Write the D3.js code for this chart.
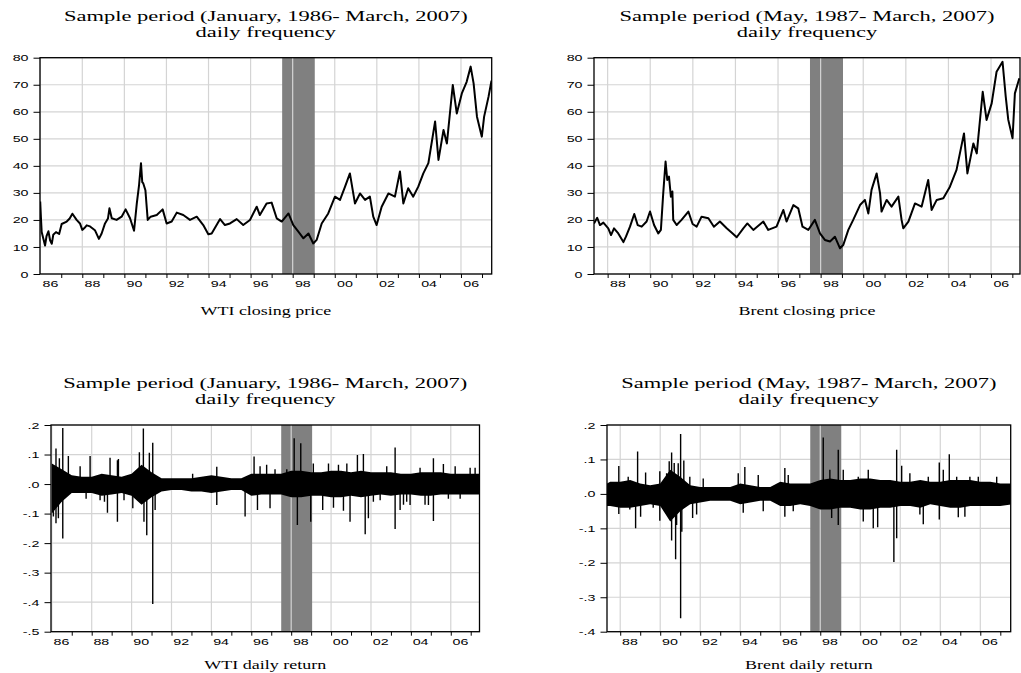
<!DOCTYPE html>
<html>
<head>
<meta charset="utf-8">
<script src="https://cdn.jsdelivr.net/npm/d3@7/dist/d3.min.js"></script>
<style>
body { margin: 0; background: #fff; }
#vis { width: 1021px; height: 673px; }
</style>
</head>
<body>
<div id="vis"></div>
<script>
// ---- data ----

// WTI closing price (decimal year, USD)
var wtiYears = [1986.0, 1986.04, 1986.07, 1986.15, 1986.23, 1986.3, 1986.39, 1986.47, 1986.55, 1986.62, 1986.75, 1986.9,
    1987.02, 1987.26, 1987.4, 1987.53, 1987.73, 1987.89, 1988.0, 1988.1, 1988.21, 1988.37, 1988.6, 1988.79, 1988.92,
    1989.08, 1989.22, 1989.29, 1989.4, 1989.63, 1989.87, 1990.06, 1990.27, 1990.46, 1990.59, 1990.7, 1990.79, 1990.85,
    1990.9, 1991.0, 1991.05, 1991.11, 1991.25, 1991.54, 1991.82, 1992.01, 1992.25, 1992.49, 1992.8, 1993.12, 1993.44,
    1993.75, 1993.99, 1994.15, 1994.55, 1994.78, 1995.02, 1995.34, 1995.65, 1995.97, 1996.29, 1996.44, 1996.76, 1997.0,
    1997.24, 1997.48, 1997.8, 1998.03, 1998.27, 1998.51, 1998.75, 1998.98, 1999.14, 1999.38, 1999.69, 2000.01, 2000.25,
    2000.49, 2000.72, 2000.96, 2001.2, 2001.44, 2001.67, 2001.83, 2001.99, 2002.23, 2002.55, 2002.86, 2003.1, 2003.26,
    2003.49, 2003.73, 2003.97, 2004.21, 2004.45, 2004.77, 2004.93, 2005.17, 2005.33, 2005.61, 2005.8, 2006.04, 2006.27,
    2006.46, 2006.6, 2006.76, 2006.99, 2007.1, 2007.31, 2007.45];
var wtiPrice = [26.8, 20, 15.5, 13, 10.5, 14, 15.8, 12.5, 11.2, 14.5, 15.5, 14.8,
    18.5, 19.4, 20.5, 22.3, 20, 18.7, 16.3, 17, 18, 17.6, 16.2, 13, 15,
    18.7, 20.5, 24.3, 20.6, 20, 21.2, 23.9, 20.6, 16, 26, 33, 41, 34,
    33.5, 31, 26, 20, 21.2, 21.8, 23.9, 18.7, 19.4, 22.7, 21.8, 20, 21.2,
    18.1, 14.7, 15, 20.3, 18.1, 18.7, 20.3, 18.1, 20, 24.9, 21.8, 26.1, 26.4,
    20.6, 19.4, 22.4, 18.1, 15.7, 13.2, 15, 11.3, 12.6, 18.7, 22.4, 28.6, 27.4,
    32.3, 37.2, 26.1, 29.8, 27.4, 28.6, 21.2, 18.1, 24.9, 29.8, 28.6, 37.9, 26.1,
    31.7, 28.6, 32.3, 37.2, 41, 56.4, 42.2, 53.3, 48.3, 69.9, 59.4, 66.8, 71.1,
    76.7, 70.5, 58.2, 50.8, 58.2, 65.6, 71.5];

// Brent closing price
var brentYears = [1987.36, 1987.51, 1987.64, 1987.8, 1988.03, 1988.16, 1988.3, 1988.5, 1988.74, 1988.86, 1989.05,
    1989.25, 1989.41, 1989.6, 1989.83, 1989.99, 1990.18, 1990.38, 1990.5, 1990.61, 1990.72, 1990.8, 1990.88, 1990.97,
    1991.04, 1991.08, 1991.24, 1991.47, 1991.79, 1991.99, 1992.18, 1992.41, 1992.73, 1992.99, 1993.27, 1993.59, 1993.87,
    1994.06, 1994.37, 1994.56, 1994.84, 1995.31, 1995.54, 1995.93, 1996.25, 1996.4, 1996.72, 1996.95, 1997.15, 1997.42,
    1997.73, 1997.97, 1998.2, 1998.44, 1998.67, 1998.91, 1999.06, 1999.3, 1999.53, 1999.85, 2000.08, 2000.24, 2000.39,
    2000.63, 2000.79, 2000.86, 2001.1, 2001.33, 2001.65, 2001.8, 2001.88, 2002.12, 2002.43, 2002.74, 2003.05, 2003.21,
    2003.45, 2003.76, 2004.07, 2004.38, 2004.73, 2004.89, 2005.17, 2005.33, 2005.61, 2005.79, 2006.03, 2006.26, 2006.54,
    2006.69, 2006.81, 2007.01, 2007.12, 2007.33];
var brentPrice = [18.7, 20.8, 18.1, 19, 16.9, 14.4, 16.9, 15, 11.8, 13.8, 17.5,
    22.2, 18.1, 17.5, 19.4, 23.1, 18.1, 15, 16.3, 29.8, 41.6, 34.8, 36, 28.6,
    30.5, 20, 18.1, 20, 23.1, 18.5, 17.5, 21.2, 20.6, 17.5, 19.4, 16.9, 15,
    13.6, 16.9, 18.7, 16.3, 19.4, 16.3, 17.5, 23.7, 19.4, 25.5, 24.3, 17.5, 16.3,
    20, 15, 12.6, 12, 13.8, 9.5, 10.7, 16.3, 20, 25.5, 27.4, 22.4, 31.1,
    37.2, 29.8, 23.1, 27.4, 24.9, 28.6, 20, 16.9, 19.4, 26.1, 24.9, 34.8, 23.7,
    27.4, 28, 32.3, 38.5, 52, 37.2, 48.3, 44.6, 67.4, 57, 63.1, 74.8, 78.5,
    65.6, 57, 50.2, 66.8, 72.4];

// daily return: dense band (upper / lower edge) every half year
var wtiBandYears = [1986.0, 1986.5, 1987.0, 1987.5, 1988.0, 1988.5, 1989.0, 1989.5, 1990.0, 1990.5, 1991.0, 1991.5,
    1992.0, 1992.5, 1993.0, 1993.5, 1994.0, 1994.5, 1995.0, 1995.5, 1996.0, 1996.5, 1997.0, 1997.5, 1998.0, 1998.5,
    1999.0, 1999.5, 2000.0, 2000.5, 2001.0, 2001.5, 2002.0, 2002.5, 2003.0, 2003.5, 2004.0, 2004.5, 2005.0, 2005.5,
    2006.0, 2006.5, 2007.0, 2007.5];
var wtiBandHi = [.07, .05, .03, .025, .025, .035, .03, .025, .035, .065, .04, .02,
    .02, .02, .02, .025, .03, .025, .02, .02, .035, .035, .035, .035, .045, .045,
    .04, .04, .045, .045, .04, .045, .04, .04, .04, .035, .035, .04, .04, .04,
    .035, .035, .035, .035];
var wtiBandLo = [-.1, -.06, -.03, -.03, -.03, -.04, -.035, -.03, -.04, -.07, -.045, -.025,
    -.02, -.02, -.025, -.025, -.03, -.025, -.02, -.02, -.04, -.035, -.035, -.035, -.045, -.045,
    -.04, -.04, -.045, -.045, -.04, -.045, -.04, -.035, -.04, -.035, -.035, -.04, -.04, -.035,
    -.035, -.035, -.035, -.035];

// daily return: single large moves
var wtiSpikeYears = [1986.08, 1986.08, 1986.21, 1986.21, 1986.33, 1986.38, 1986.55, 1986.55, 1986.83, 1987.42, 1987.72,
    1987.92, 1988.42, 1988.64, 1988.79, 1988.92, 1989.29, 1989.29, 1989.34, 1989.62, 1990.06, 1990.39, 1990.59, 1990.62,
    1990.76, 1990.89, 1991.06, 1991.06, 1991.18, 1993.06, 1994.27, 1994.27, 1995.69, 1996.14, 1996.31, 1996.44, 1996.77,
    1996.94, 1997.19, 1997.78, 1998.15, 1998.31, 1998.48, 1998.98, 1999.11, 1999.58, 1999.87, 2000.12, 2000.37, 2000.62,
    2000.79, 2000.95, 2001.32, 2001.62, 2001.71, 2001.87, 2002.12, 2002.46, 2002.79, 2003.21, 2003.21, 2003.46, 2003.63,
    2003.79, 2003.96, 2004.46, 2004.71, 2004.88, 2005.13, 2005.13, 2005.63, 2005.88, 2006.22, 2006.47, 2006.97, 2007.22];
var wtiSpikeValues = [.064, -.11, .12, -.133, -.116, .087, .19, -.184, .095, .06, -.05,
    .095, -.055, -.06, -.097, .089, .081, -.128, .085, -.055, -.082, .108, .188, -.128,
    -.173, .106, .14, -.406, -.088, .035, .059, -.071, -.11, .093, -.088, .06, .065,
    -.082, .05, .05, .155, -.139, .138, -.128, .07, -.088, .07, -.08, .065, -.09,
    .07, -.128, .098, .102, -.17, -.116, -.06, -.055, .06, .124, -.152, -.088, -.07,
    -.06, -.071, .055, -.07, -.071, .087, -.125, .068, -.05, .06, -.05, .055, .055];

var brentBandYears = [1987.34, 1987.5, 1988.0, 1988.5, 1989.0, 1989.5, 1990.0, 1990.5, 1991.0, 1991.5, 1992.0, 1992.5,
    1993.0, 1993.5, 1994.0, 1994.5, 1995.0, 1995.5, 1996.0, 1996.5, 1997.0, 1997.5, 1998.0, 1998.5, 1999.0, 1999.5,
    2000.0, 2000.5, 2001.0, 2001.5, 2002.0, 2002.5, 2003.0, 2003.5, 2004.0, 2004.5, 2005.0, 2005.5, 2006.0, 2006.5,
    2007.0, 2007.6];
var brentBandHi = [.03, .035, .035, .04, .03, .025, .03, .07, .05, .025, .02, .02,
    .02, .02, .03, .025, .02, .02, .035, .03, .03, .03, .04, .045, .04, .04,
    .045, .045, .04, .04, .035, .035, .04, .035, .035, .04, .04, .04, .035, .035,
    .03, .03];
var brentBandLo = [-.035, -.035, -.04, -.04, -.035, -.03, -.035, -.08, -.05, -.03, -.025, -.02,
    -.02, -.02, -.03, -.025, -.02, -.02, -.035, -.035, -.03, -.035, -.045, -.045, -.04, -.04,
    -.045, -.045, -.04, -.04, -.035, -.035, -.04, -.03, -.035, -.04, -.04, -.035, -.035, -.035,
    -.035, -.03];

var brentSpikeYears = [1987.93, 1987.93, 1988.4, 1988.48, 1988.77, 1988.87, 1989.02, 1989.27, 1989.65, 1989.98, 1989.98,
    1990.32, 1990.45, 1990.57, 1990.57, 1990.7, 1990.77, 1990.82, 1990.9, 1991.02, 1991.02, 1991.08, 1991.18, 1991.48,
    1991.62, 1991.82, 1992.15, 1993.9, 1994.15, 1994.23, 1994.9, 1995.15, 1996.23, 1996.23, 1996.4, 1996.65, 1998.15,
    1998.48, 1998.57, 1998.9, 1998.9, 1999.15, 1999.9, 2000.15, 2000.4, 2000.65, 2000.87, 2001.68, 2001.82, 2001.82,
    2002.07, 2002.48, 2002.98, 2003.15, 2003.4, 2003.95, 2003.95, 2004.15, 2004.45, 2004.82, 2004.9, 2005.23, 2005.48,
    2005.9, 2006.82];
var brentSpikeValues = [.081, -.058, .05, -.045, -.1, .123, -.066, .062, -.04, .066, -.078,
    .06, .095, .12, -.135, .09, -.19, -.09, .089, .174, -.361, -.11, .097, .05,
    -.07, -.06, .045, .06, -.055, .078, .055, -.05, .075, -.066, .055, -.05, .164,
    .07, -.07, .128, -.09, .07, .05, -.08, .07, -.1, -.097, -.198, .128, -.129,
    .082, .06, -.06, -.088, .05, .091, -.074, .07, .115, .05, -.068, -.066, .05,
    .05, .05];

// shaded period (Asian crisis)
var shadeYears = [1997.5, 1999.05];

// tick values
var priceTicks = [0, 10, 20, 30, 40, 50, 60, 70, 80];
var wtiReturnTicks = [-.5, -.4, -.3, -.2, -.1, 0, .1, .2];
var brentReturnTicks = [-.4, -.3, -.2, -.1, 0, .1, .2];
var wtiYearTicks = d3.range(1986, 2008);
var brentYearTicks = d3.range(1988, 2008);

// text
var wtiTitle = ['Sample period (January, 1986- March, 2007)', 'daily frequency'];
var brentTitle = ['Sample period (May, 1987- March, 2007)', 'daily frequency'];
var labels = ['WTI closing price', 'Brent closing price', 'WTI daily return', 'Brent daily return'];

// ---- drawing ----
var width = 1021, height = 673;
var stretch = 1.5; // the original picture is widened
var serif = '"Liberation Serif", "Times New Roman", serif';
var sans = '"Liberation Sans", Arial, sans-serif';

var svg = d3.select('#vis')
    .append('svg')
    .attr('width', width)
    .attr('height', height);

var panels = [
    { id: 'p1', left: 40, right: 491.7, top: 57.7, bottom: 274, xDomain: [1985.99, 2007.46], yDomain: [0, 80],
      yTicks: priceTicks, yearTicks: wtiYearTicks, title: wtiTitle, label: labels[0], labelGap: 40.5,
      kind: 'price', years: wtiYears, values: wtiPrice },
    { id: 'p2', left: 594, right: 1020, top: 57.7, bottom: 274, xDomain: [1987.36, 2007.36], yDomain: [0, 80],
      yTicks: priceTicks, yearTicks: brentYearTicks, title: brentTitle, label: labels[1], labelGap: 40.5,
      kind: 'price', years: brentYears, values: brentPrice },
    { id: 'p3', left: 51, right: 479.5, top: 425, bottom: 631.7, xDomain: [1985.96, 2007.44], yDomain: [-.5, .2],
      yTicks: wtiReturnTicks, yearTicks: wtiYearTicks, title: wtiTitle, label: labels[2], labelGap: 37,
      kind: 'return', bandYears: wtiBandYears, hi: wtiBandHi, lo: wtiBandLo,
      spikeYears: wtiSpikeYears, spikes: wtiSpikeValues },
    { id: 'p4', left: 607, right: 1010.7, top: 425, bottom: 631.7, xDomain: [1987.34, 2007.52], yDomain: [-.4, .2],
      yTicks: brentReturnTicks, yearTicks: brentYearTicks, title: brentTitle, label: labels[3], labelGap: 37,
      kind: 'return', bandYears: brentBandYears, hi: brentBandHi, lo: brentBandLo,
      spikeYears: brentSpikeYears, spikes: brentSpikeValues }
];

// move the x of a text into a transform so it can be widened
function widen(sel) {
    sel.each(function() {
        var t = d3.select(this);
        var tx = +t.attr('x') || 0;
        t.attr('x', 0)
            .attr('transform', 'translate(' + tx + ',0) scale(' + stretch + ',1)');
    });
}

function returnFormat(d) {
    var r = Math.round(Math.abs(d) * 10);
    return (d < 0 ? '-' : '') + '.' + r;
}

function drawPanel(p) {
    var g = svg.append('g').attr('class', 'panel');

    var x = d3.scaleLinear().domain(p.xDomain).range([p.left, p.right]);
    var y = d3.scaleLinear().domain(p.yDomain).range([p.bottom, p.top]);

    g.append('clipPath')
        .attr('id', 'clip-' + p.id)
        .append('rect')
        .attr('x', p.left)
        .attr('y', p.top)
        .attr('width', p.right - p.left)
        .attr('height', p.bottom - p.top);

    // horizontal grid
    g.selectAll('.hgrid')
        .data(p.yTicks)
        .enter()
        .append('line')
        .attr('x1', p.left)
        .attr('x2', p.right)
        .attr('y1', function(d) { return y(d); })
        .attr('y2', function(d) { return y(d); })
        .attr('stroke', '#d4d4d4')
        .attr('stroke-width', 1.2);

    // shaded period
    g.append('rect')
        .attr('x', x(shadeYears[0]))
        .attr('y', p.top)
        .attr('width', x(shadeYears[1]) - x(shadeYears[0]))
        .attr('height', p.bottom - p.top)
        .attr('fill', '#808080');

    // vertical grid on even years
    var evenYears = p.yearTicks.filter(function(d) { return d % 2 === 0; });
    g.selectAll('.vgrid')
        .data(evenYears)
        .enter()
        .append('line')
        .attr('x1', function(d) { return x(d); })
        .attr('x2', function(d) { return x(d); })
        .attr('y1', p.top)
        .attr('y2', p.bottom)
        .attr('stroke', '#d4d4d4')
        .attr('stroke-width', 1.2);

    var plot = g.append('g').attr('clip-path', 'url(#clip-' + p.id + ')');

    if (p.kind === 'price') {
        var line = d3.line()
            .x(function(d, i) { return x(p.years[i]); })
            .y(function(d) { return y(d); });
        plot.append('path')
            .datum(p.values)
            .attr('d', line)
            .attr('fill', 'none')
            .attr('stroke', '#000')
            .attr('stroke-width', 2)
            .attr('stroke-linejoin', 'round');
    } else {
        var area = d3.area()
            .x(function(d, i) { return x(p.bandYears[i]); })
            .y0(function(d, i) { return y(p.lo[i]); })
            .y1(function(d) { return y(d); });
        plot.append('path')
            .datum(p.hi)
            .attr('d', area)
            .attr('fill', '#000');

        plot.selectAll('.spike')
            .data(p.spikes)
            .enter()
            .append('line')
            .attr('x1', function(d, i) { return x(p.spikeYears[i]); })
            .attr('x2', function(d, i) { return x(p.spikeYears[i]); })
            .attr('y1', y(0))
            .attr('y2', function(d) { return y(d); })
            .attr('stroke', '#000')
            .attr('stroke-width', 1.4);
    }

    // frame
    g.append('rect')
        .attr('x', p.left)
        .attr('y', p.top)
        .attr('width', p.right - p.left)
        .attr('height', p.bottom - p.top)
        .attr('fill', 'none')
        .attr('stroke', '#000')
        .attr('stroke-width', 1.3);

    // y axis
    var yAxis = d3.axisLeft(y)
        .tickValues(p.yTicks)
        .tickSize(6.5)
        .tickPadding(5)
        .tickFormat(p.kind === 'price' ? d3.format('d') : returnFormat);
    var ya = g.append('g')
        .attr('transform', 'translate(' + p.left + ',0)')
        .call(yAxis);
    ya.select('.domain').remove();
    ya.selectAll('text')
        .style('font-family', sans)
        .style('font-size', '9.5px')
        .attr('fill', '#000');
    widen(ya.selectAll('text'));

    // x axis: a tick every year
    var xAxis = d3.axisBottom(x)
        .tickValues(p.yearTicks.filter(function(d) { return d > p.xDomain[0] + 0.05 && d < p.xDomain[1]; }))
        .tickSize(4)
        .tickFormat('');
    var xa = g.append('g')
        .attr('transform', 'translate(0,' + p.bottom + ')')
        .call(xAxis);
    xa.select('.domain').remove();

    // x labels centred in the even years
    var labelAxis = d3.axisBottom(x)
        .tickValues(evenYears.filter(function(d) { return d < p.xDomain[1]; }).map(function(d) { return d + 0.46; }))
        .tickSize(0)
        .tickPadding(6.3)
        .tickFormat(function(d) { return d3.format('02d')(Math.floor(d) % 100); });
    var la = g.append('g')
        .attr('transform', 'translate(0,' + p.bottom + ')')
        .call(labelAxis);
    la.select('.domain').remove();
    la.selectAll('text')
        .style('font-family', sans)
        .style('font-size', '9.5px')
        .attr('fill', '#000');
    widen(la.selectAll('text'));

    // titles
    var cx = (p.left + p.right) / 2;
    g.selectAll('.title')
        .data(p.title)
        .enter()
        .append('text')
        .attr('transform', function(d, i) {
            return 'translate(' + cx + ',' + (p.top - 36.7 + i * 15.5) + ') scale(' + stretch + ',1)';
        })
        .attr('text-anchor', 'middle')
        .style('font-family', serif)
        .style('font-size', '15px')
        .text(function(d) { return d; });

    g.append('text')
        .attr('transform', 'translate(' + cx + ',' + (p.bottom + p.labelGap) + ') scale(' + stretch + ',1)')
        .attr('text-anchor', 'middle')
        .style('font-family', serif)
        .style('font-size', '12px')
        .text(p.label);
}

panels.forEach(drawPanel);
</script>
</body>
</html>
